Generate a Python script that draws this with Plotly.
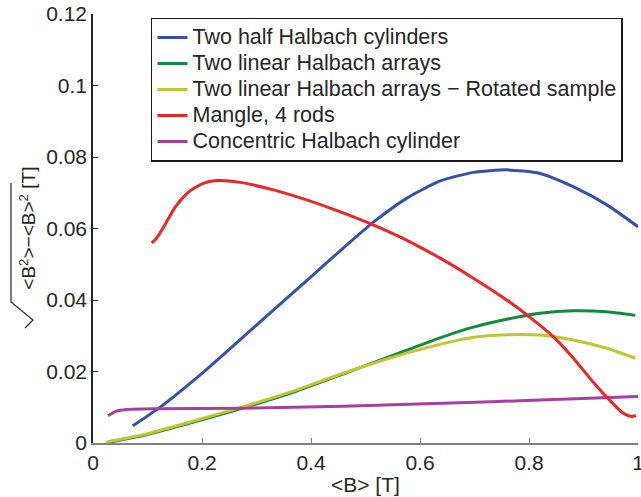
import plotly.graph_objects as go

names = [
    "Two half Halbach cylinders",
    "Two linear Halbach arrays",
    "Two linear Halbach arrays \u2212 Rotated sample",
    "Mangle, 4 rods",
    "Concentric Halbach cylinder",
]
colors = ["#3352A8", "#138A3C", "#C4C433", "#EE2525", "#A5409E"]

blue_x = [0.073, 0.122, 0.2, 0.3, 0.4, 0.453, 0.514, 0.576, 0.637, 0.698, 0.759, 0.82, 0.881, 0.943, 1.0]
blue_y = [0.0048, 0.0099, 0.0195, 0.0330, 0.0465, 0.0537, 0.0617, 0.0685, 0.0733, 0.0757, 0.0764, 0.0754, 0.0717, 0.0666, 0.0605]

green_x = [0.025, 0.092, 0.183, 0.275, 0.367, 0.459, 0.55, 0.642, 0.698, 0.759, 0.82, 0.881, 0.943, 0.995]
green_y = [0.0001, 0.0021, 0.0058, 0.0098, 0.0142, 0.0193, 0.0245, 0.0297, 0.0324, 0.0346, 0.0363, 0.037, 0.0367, 0.0357]

yellow_x = [0.025, 0.092, 0.183, 0.275, 0.367, 0.459, 0.55, 0.642, 0.698, 0.759, 0.82, 0.881, 0.943, 0.995]
yellow_y = [0.0003, 0.0023, 0.0061, 0.0101, 0.0145, 0.0195, 0.024, 0.0278, 0.0296, 0.0303, 0.0302, 0.0288, 0.0265, 0.0237]

red_x = [0.1076, 0.115, 0.13, 0.15, 0.175, 0.2, 0.227, 0.27, 0.331, 0.392, 0.453, 0.514, 0.576, 0.637,
         0.698, 0.759, 0.799, 0.845, 0.881, 0.918, 0.949, 0.973, 0.988, 0.996]
red_y = [0.056, 0.0570, 0.0605, 0.0658, 0.0702, 0.0725, 0.0734, 0.0729, 0.0708, 0.068, 0.0647, 0.061, 0.0567, 0.0517,
         0.0461, 0.04, 0.0355, 0.0297, 0.0238, 0.0170, 0.0118, 0.0083, 0.0074, 0.0077]

purple_x = [0.0275, 0.043, 0.061, 0.122, 0.275, 0.459, 0.642, 0.82, 1.0]
purple_y = [0.0076, 0.0089, 0.0094, 0.0096, 0.0097, 0.0103, 0.0111, 0.012, 0.013]

x_ticks = [0, 0.2, 0.4, 0.6, 0.8, 1.0]
x_tick_labels = ["0", "0.2", "0.4", "0.6", "0.8", "1"]
y_ticks = [0, 0.02, 0.04, 0.06, 0.08, 0.1, 0.12]
y_tick_labels = ["0", "0.02", "0.04", "0.06", "0.08", "0.1", "0.12"]

x_title = "&lt;B&gt; [T]"
y_title = "&lt;B<sup>2</sup>&gt;\u2212&lt;B&gt;<sup>2</sup> [T]"

series = [
    (blue_x, blue_y, 0),
    (green_x, green_y, 1),
    (yellow_x, yellow_y, 2),
    (purple_x, purple_y, 4),
    (red_x, red_y, 3),
]

FONT = "Liberation Sans, Arial, sans-serif"
TXT = "#262626"

fig = go.Figure()
for xs, ys, i in series:
    fig.add_trace(go.Scatter(
        x=xs, y=ys, mode="lines", legendrank=i + 1,
        name='<span style="font-size:21.5px">' + names[i] + "</span>",
        line=dict(color=colors[i], width=3, shape="spline", smoothing=0.6),
    ))

fig.update_layout(
    width=641, height=497,
    margin=dict(l=93, r=3, t=14, b=54, autoexpand=False),
    paper_bgcolor="white", plot_bgcolor="white",
    font=dict(family=FONT, size=21, color=TXT),
    showlegend=True,
    legend=dict(
        x=0.1064, y=0.9907, xanchor="left", yanchor="top",
        bgcolor="white", bordercolor="#1a1a1a", borderwidth=1.5,
        font=dict(family=FONT, size=17.7, color=TXT),
        tracegroupgap=0, itemwidth=30,
    ),
    xaxis=dict(
        range=[0, 1], tickvals=x_ticks, ticktext=x_tick_labels, automargin=False,
        showgrid=False, zeroline=False, showline=True, linecolor="#808080", linewidth=1.5,
        ticks="inside", ticklen=5, tickcolor="#808080", tickwidth=1,
        ticklabeloverflow="allow",
        tickfont=dict(family=FONT, size=21, color=TXT),
    ),
    yaxis=dict(
        range=[0, 0.12], tickvals=y_ticks, ticktext=y_tick_labels, automargin=False,
        showgrid=False, zeroline=False, showline=True, linecolor="#262626", linewidth=1.5,
        ticks="inside", ticklen=5, tickcolor="#262626", tickwidth=1,
        ticklabeloverflow="allow",
        tickfont=dict(family=FONT, size=21, color=TXT),
    ),
    annotations=[
        dict(
            text=y_title, xref="paper", yref="paper", x=-0.12, y=0.501,
            xanchor="center", yanchor="middle", textangle=-90, showarrow=False,
            font=dict(family=FONT, size=19, color=TXT),
        ),
        dict(
            text=x_title, xref="paper", yref="paper", x=0.5, y=-0.0956,
            xanchor="center", yanchor="middle", showarrow=False,
            font=dict(family=FONT, size=21, color=TXT),
        ),
    ],
    shapes=[dict(
        type="path", xref="paper", yref="paper",
        path="M -0.1505,0.6061 L -0.1505,0.3287 L -0.1101,0.2867 L -0.1248,0.2681",
        line=dict(color=TXT, width=1.2),
    )],
)

fig.write_html(
    "out.html",
    config={"displayModeBar": False},
    post_script="document.body.style.margin='0px';",
)
